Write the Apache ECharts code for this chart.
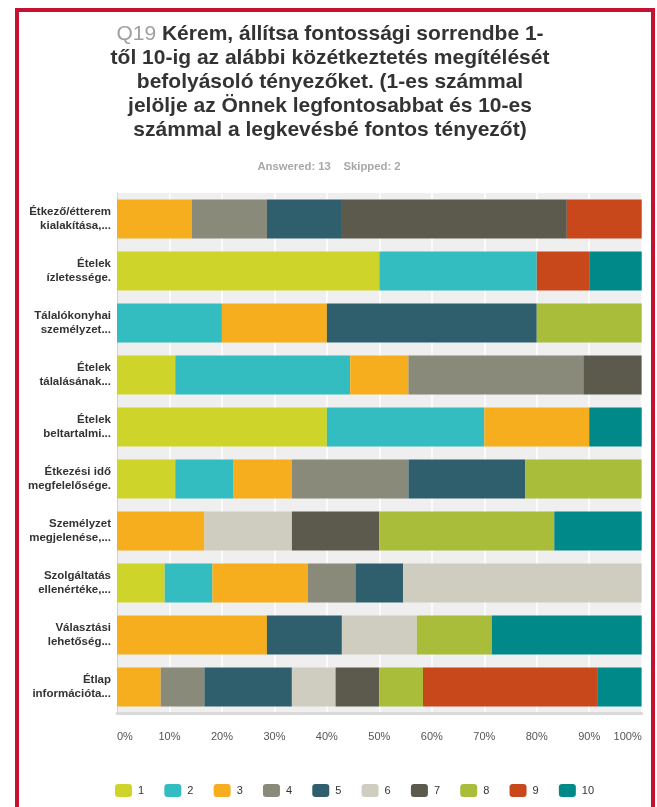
<!DOCTYPE html>
<html>
<head>
<meta charset="utf-8">
<script src="https://cdn.jsdelivr.net/npm/echarts@6/dist/echarts.min.js"></script>
<style>
html,body{margin:0;padding:0;background:#fff;}
#c{width:657px;height:807px;}
</style>
</head>
<body>
<div id="c"></div>
<script>
var categories = [
  "Étkező/étterem\nkialakítása,...",
  "Ételek\nízletessége.",
  "Tálalókonyhai\nszemélyzet...",
  "Ételek\ntálalásának...",
  "Ételek\nbeltartalmi...",
  "Étkezési idő\nmegfelelősége.",
  "Személyzet\nmegjelenése,...",
  "Szolgáltatás\nellenértéke,...",
  "Választási\nlehetőség...",
  "Étlap\ninformációta..."
];
var rankNames = ["1","2","3","4","5","6","7","8","9","10"];
var rank1  = [0, 50, 0, 11.11, 40, 11.11, 0, 9.09, 0, 0];
var rank2  = [0, 30, 20, 33.33, 30, 11.11, 0, 9.09, 0, 0];
var rank3  = [14.29, 0, 20, 11.11, 20, 11.11, 16.67, 18.18, 28.57, 8.33];
var rank4  = [14.29, 0, 0, 33.33, 0, 22.22, 0, 9.09, 0, 8.33];
var rank5  = [14.29, 0, 40, 0, 0, 22.22, 0, 9.09, 14.29, 16.67];
var rank6  = [0, 0, 0, 0, 0, 0, 16.67, 45.45, 14.29, 8.33];
var rank7  = [42.86, 0, 0, 11.11, 0, 0, 16.67, 0, 0, 8.33];
var rank8  = [0, 0, 20, 0, 0, 22.22, 33.33, 0, 14.29, 8.33];
var rank9  = [14.29, 10, 0, 0, 0, 0, 0, 0, 0, 33.33];
var rank10 = [0, 10, 0, 0, 10, 0, 16.67, 0, 28.57, 8.33];
var tickLabels = ["0%","10%","20%","30%","40%","50%","60%","70%","80%","90%","100%"];

var rankValues = [rank1, rank2, rank3, rank4, rank5, rank6, rank7, rank8, rank9, rank10];
var colors = ["#cfd42a","#33bdc0","#f6ae1f","#8a8a7a","#2f5e6c","#cfcdc0","#5c5a4c","#aabd3a","#c8471b","#008989"];

var series = rankNames.map(function (name, i) {
  return {
    name: name,
    type: 'bar',
    stack: 'total',
    barWidth: 39,
    data: rankValues[i],
    itemStyle: { color: colors[i] },
    emphasis: { disabled: true }
  };
});

var chart = echarts.init(document.getElementById('c'), null, { renderer: 'canvas' });
chart.setOption({
  animation: false,
  color: colors,
  title: [
    {
      text: "{q|Q19} Kérem, állítsa fontossági sorrendbe 1-\ntől 10-ig az alábbi közétkeztetés megítélését\nbefolyásoló tényezőket. (1-es számmal\njelölje az Önnek legfontosabbat és 10-es\nszámmal a legkevésbé fontos tényezőt)",
      left: 325,
      top: 17,
      textAlign: 'center',
      textStyle: {
        fontFamily: 'Liberation Sans, Arial, sans-serif',
        fontSize: 21,
        fontWeight: 'bold',
        color: '#333333',
        lineHeight: 24,
        rich: {
          q: { fontFamily: 'Liberation Sans, Arial, sans-serif', fontSize: 21, fontWeight: 'normal', color: '#a0a0a0', lineHeight: 24 }
        }
      }
    },
    {
      text: "Answered: 13    Skipped: 2",
      left: 324,
      top: 155,
      textAlign: 'center',
      textStyle: {
        fontFamily: 'Liberation Sans, Arial, sans-serif',
        fontSize: 11.3,
        fontWeight: 'bold',
        color: '#a8a8a8',
        lineHeight: 14
      }
    }
  ],
  grid: {
    left: 117,
    right: 15.3,
    top: 193,
    bottom: 94,
    show: true,
    backgroundColor: '#efefef',
    borderWidth: 0,
    containLabel: false
  },
  xAxis: {
    type: 'value',
    min: 0,
    max: 100,
    interval: 10,
    axisLine: { show: true, lineStyle: { color: '#d9d9d9', width: 3 } },
    axisTick: { show: false },
    splitLine: { show: true, lineStyle: { color: '#ffffff', width: 1.5 } },
    axisLabel: {
      margin: 18,
      fontFamily: 'Liberation Sans, Arial, sans-serif',
      fontSize: 11,
      color: '#555555',
      alignMinLabel: 'left',
      alignMaxLabel: 'right',
      formatter: function (v) { return tickLabels[Math.round(v / 10)]; }
    }
  },
  yAxis: {
    type: 'category',
    inverse: true,
    data: categories,
    axisLine: { show: true, lineStyle: { color: '#d4d4d4', width: 1 } },
    axisTick: { show: false },
    splitLine: { show: false },
    axisLabel: {
      margin: 6,
      fontFamily: 'Liberation Sans, Arial, sans-serif',
      fontSize: 11.5,
      fontWeight: 'bold',
      color: '#333333',
      lineHeight: 14.5,
      align: 'right'
    }
  },
  legend: {
    data: rankNames,
    left: 115,
    top: 784,
    padding: 0,
    itemWidth: 17,
    itemHeight: 13,
    itemGap: 20.2,
    icon: 'roundRect',
    selectedMode: false,
    textStyle: {
      fontFamily: 'Liberation Sans, Arial, sans-serif',
      fontSize: 11,
      color: '#333333',
      padding: [0, 0, 0, 1]
    }
  },
  graphic: [
    {
      type: 'rect',
      silent: true,
      z: 100,
      shape: { x: 17, y: 10, width: 636, height: 830 },
      style: { fill: null, stroke: '#c41230', lineWidth: 4 }
    }
  ],
  series: series
});
</script>
</body>
</html>
